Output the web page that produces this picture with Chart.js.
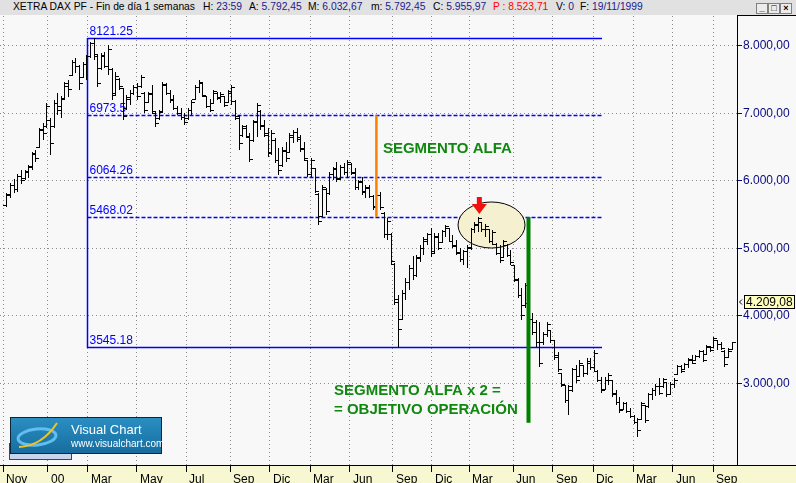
<!DOCTYPE html>
<html>
<head>
<meta charset="utf-8">
<script src="https://cdn.jsdelivr.net/npm/chart.js@4.4.0/dist/chart.umd.min.js"></script>
<style>
  html, body { margin: 0; padding: 0; background: #f8f8f8; overflow: hidden; }
  #wrap { position: relative; width: 796px; height: 483px; }
  #chart { position: absolute; left: 0; top: 0; }
  #head { position: absolute; left: 0; top: 0; width: 796px; height: 15px; background: #e1e1e1;
          font: 10.3px Arial, "Liberation Sans", sans-serif; color: #000; }
  #head span { position: absolute; top: 1px; white-space: pre; }
  .btn { position: absolute; top: 3px; width: 10px; height: 9px; border: 1px solid #808080;
         background: #ececec; font: bold 9px Arial, sans-serif; line-height: 9px; text-align: center; }
</style>
</head>
<body>
<div id="wrap">
  <canvas id="chart" width="796" height="483"></canvas>
  <div id="head"></div>
</div>
<script>
// weekly bars, Nov 1999 .. Sep 2003
const highs = [
  5822, 5970, 6030, 6104, 6163, 6163, 6237, 6430, 6459, 6785,
  6859, 7155, 6933, 7200, 7304, 7259, 7467, 7496, 7793, 7822,
  7718, 7763, 7867, 8059, 8121.25, 7867, 7896, 7911, 8015, 7674,
  7615, 7526, 7378, 7274, 7348, 7422, 7452, 7570, 7318, 7318,
  7422, 7022, 7052, 7467, 7452, 7348, 7274, 7111, 7081, 7007,
  7081, 7200, 7422, 7496, 7467, 7259, 7215, 7348, 7318, 7318,
  7259, 7348, 7422, 7200, 6978, 6830, 6830, 6711, 6904, 7155,
  7052, 6904, 6785, 6755, 6637, 6489, 6504, 6578, 6711, 6755,
  6785, 6681, 6578, 6311, 6341, 6193, 5822, 5941, 5896, 6133,
  6207, 6281, 6237, 6267, 6311, 6267, 6193, 6015, 6059, 5941,
  5941, 5793, 5822, 5837, 5541, 5452, 5230, 4785, 4311, 4385,
  4563, 4755, 4889, 4904, 5052, 5170, 5230, 5304, 5230, 5230,
  5274, 5348, 5304, 5200, 5126, 5007, 4978, 5052, 5304, 5393,
  5467, 5393, 5363, 5289, 5274, 5081, 5052, 5126, 5067, 4978,
  4755, 4563, 4415, 4489, 4192, 4044, 3941, 3911, 3763, 3911,
  3793, 3644, 3467, 3155, 2978, 2978, 3230, 3274, 3348, 3274,
  3378, 3378, 3496, 3200, 3096, 3096, 3155, 3052, 2904, 2800,
  2726, 2726, 2637, 2533, 2489, 2726, 2681, 2859, 2933, 2993,
  3081, 3081, 3022, 3022, 3081, 3274, 3274, 3304, 3378, 3422,
  3422, 3496, 3496, 3570, 3555, 3689, 3644, 3615, 3496, 3526,
  3615
];
const lows = [
  5615, 5748, 5822, 5837, 5955, 6015, 6044, 6163, 6281, 6489,
  6607, 6785, 6385, 6785, 6978, 6933, 7200, 7244, 7556, 7600,
  7348, 7526, 7496, 7822, 7793, 7393, 7644, 7674, 7570, 7200,
  7274, 7348, 6904, 7052, 7126, 7274, 7200, 7378, 7007, 7155,
  7007, 6800, 6904, 7007, 7274, 7155, 7052, 6978, 6904, 6830,
  6904, 6978, 7200, 7304, 7244, 7081, 7022, 7141, 7200, 7155,
  7096, 7155, 7126, 6904, 6459, 6652, 6637, 6281, 6578, 6652,
  6755, 6652, 6356, 6385, 6267, 6089, 6207, 6281, 6415, 6563,
  6578, 6430, 6311, 6059, 6059, 5822, 5348, 5467, 5496, 5793,
  6015, 5985, 6015, 6089, 6044, 6089, 5867, 5867, 5793, 5748,
  5748, 5570, 5615, 5570, 5155, 5126, 4755, 4163, 3545.18, 3941,
  4237, 4385, 4533, 4578, 4800, 4904, 5052, 4874, 4933, 4978,
  5081, 5170, 5096, 5007, 4904, 4800, 4755, 4711, 4978, 5230,
  5244, 5244, 5170, 5081, 5052, 4904, 4785, 4859, 4874, 4755,
  4504, 4267, 3941, 4118, 3911, 3718, 3541, 3244, 3570, 3689,
  3600, 3348, 3170, 2948, 2711, 2533, 2874, 3007, 3096, 3096,
  3126, 3200, 3170, 3022, 2859, 2904, 2978, 2800, 2681, 2563,
  2607, 2563, 2489, 2400, 2203, 2459, 2415, 2637, 2755, 2815,
  2830, 2933, 2800, 2830, 2933, 3126, 3155, 3200, 3230, 3289,
  3333, 3378, 3318, 3422, 3467, 3526, 3496, 3496, 3244, 3378,
  3496
];
const opens = [
  5640, 5790, 5930, 5880, 6060, 6030, 6130, 6200, 6390, 6500,
  6750, 6800, 6900, 6800, 7150, 7050, 7220, 7400, 7570, 7750,
  7690, 7540, 7720, 7850, 8040, 7850, 7660, 7850, 7700, 7650,
  7300, 7500, 7370, 7070, 7200, 7300, 7380, 7400, 7300, 7170,
  7280, 7000, 6920, 7030, 7420, 7300, 7200, 7080, 7000, 6940,
  6920, 7040, 7210, 7380, 7440, 7250, 7100, 7150, 7300, 7220,
  7250, 7170, 7300, 7180, 6950, 6680, 6780, 6650, 6600, 6860,
  7030, 6820, 6700, 6420, 6600, 6300, 6230, 6440, 6420, 6650,
  6720, 6640, 6480, 6300, 6090, 6180, 5800, 5470, 5880, 5820,
  6100, 6170, 6030, 6200, 6120, 6250, 6120, 5900, 5990, 5840,
  5890, 5770, 5620, 5780, 5520, 5200, 5200, 4770, 4250, 3950,
  4330, 4500, 4700, 4600, 4850, 5000, 5100, 5200, 4950, 5170,
  5090, 5250, 5290, 5110, 5050, 4940, 4830, 4950, 5000, 5280,
  5340, 5380, 5280, 5280, 5100, 5060, 4930, 4860, 5050, 4900,
  4750, 4540, 4300, 4150, 4180, 3950, 3900, 3600, 3600, 3720,
  3780, 3630, 3420, 3150, 2970, 2750, 2900, 3200, 3100, 3260,
  3150, 3300, 3230, 3180, 3040, 2910, 3040, 3040, 2850, 2720,
  2620, 2700, 2590, 2510, 2420, 2470, 2670, 2660, 2830, 2900,
  2960, 2950, 3010, 2840, 2990, 3140, 3250, 3210, 3280, 3340,
  3340, 3400, 3470, 3430, 3530, 3530, 3630, 3580, 3480, 3390,
  3500
];
const closes = [
  5800, 5940, 5880, 6070, 6010, 6140, 6210, 6400, 6330, 6760,
  6700, 7100, 6550, 7150, 7100, 7200, 7440, 7350, 7760, 7700,
  7450, 7730, 7840, 8040, 7880, 7450, 7860, 7700, 7950, 7260,
  7550, 7400, 6950, 7230, 7300, 7390, 7250, 7540, 7050, 7290,
  7030, 6850, 7020, 7430, 7300, 7190, 7080, 7000, 6940, 6860,
  7040, 7170, 7380, 7460, 7270, 7100, 7050, 7320, 7230, 7280,
  7120, 7320, 7380, 6920, 6550, 6800, 6660, 6320, 6880, 7120,
  6800, 6680, 6400, 6700, 6300, 6150, 6450, 6330, 6680, 6720,
  6620, 6460, 6330, 6100, 6300, 5850, 5400, 5900, 5550, 6100,
  6180, 6020, 6200, 6120, 6280, 6110, 5900, 5980, 5830, 5900,
  5770, 5600, 5780, 5600, 5200, 5400, 4800, 4200, 3800, 4340,
  4500, 4700, 4600, 4870, 5000, 5130, 5200, 4920, 5180, 5000,
  5250, 5320, 5110, 5030, 4930, 4830, 4950, 5020, 5280, 5350,
  5440, 5280, 5330, 5100, 5240, 4930, 4820, 5100, 4900, 4790,
  4530, 4300, 4000, 4450, 3950, 3750, 3600, 3300, 3720, 3880,
  3630, 3380, 3200, 2980, 2750, 2950, 3200, 3050, 3300, 3150,
  3330, 3240, 3450, 3040, 2890, 3050, 3120, 2830, 2720, 2600,
  2700, 2590, 2510, 2420, 2300, 2700, 2450, 2830, 2900, 2960,
  2850, 3060, 2830, 2990, 3050, 3250, 3180, 3280, 3350, 3300,
  3400, 3470, 3340, 3550, 3490, 3660, 3580, 3520, 3280, 3480,
  3600
];

// bottom axis: label and the bar slot it sits at
const monthLabels = ['Nov', '00', 'Mar', 'May', 'Jul', 'Sep', 'Dic', 'Mar', 'Jun',
                     'Sep', 'Dic', 'Mar', 'Jun', 'Sep', 'Dic', 'Mar', 'Jun', 'Sep'];
const monthTickPos = [-1.10, 11.31, 22.34, 35.86, 49.38, 61.52, 72.55, 83.59, 94.62,
                      106.48, 117.24, 127.45, 139.59, 150.62, 161.66, 172.69, 183.72, 194.76];
const priceTicks = [3000, 4000, 5000, 6000, 7000, 8000];

// retracement levels drawn from the 2000 top to the 2001 low
const fibLevels = [8121.25, 6973.5, 6064.26, 5468.02, 3545.18];
const fibLabels = ['8121.25', '6973.5', '6064.26', '5468.02', '3545.18'];
const fibDashed = [false, true, true, true, false];
const fibFrom = 22.07, fibTo = 164.14;

const alfaX = 101.9;          // orange segment
const targetX = 143.86;       // green segment (alfa x 2)
const targetLow = 2420;
const notes = [
  { text: 'SEGMENTO ALFA', x: 103.7, y: 6474 },
  { text: 'SEGMENTO ALFA x 2 =', x: 90.2, y: 2889 },
  { text: '= OBJETIVO OPERACIÓN', x: 90.2, y: 2607 }
];
const circle = { x: 133.66, y: 5348, dx: 9.24, dy: 341 };
const arrowTip = { x: 130.3, y: 5511 };
const lastPrice = 4209.08;

const headerItems = [
  [13, 'XETRA DAX PF - Fin de día 1 semanas', '', '#000'],
  [203, 'H: ', '23:59', '#1a1a8c'],
  [249, 'A: ', '5.792,45', '#1a1a8c'],
  [308, 'M: ', '6.032,67', '#1a1a8c'],
  [371, 'm: ', '5.792,45', '#1a1a8c'],
  [433, 'C: ', '5.955,97', '#1a1a8c'],
  [493, 'P : ', '8.523,71', '#ff0000'],
  [556, 'V: ', '0', '#1a1a8c'],
  [580, 'F: ', '19/11/1999', '#1a1a8c']
];

// header bar
const head = document.getElementById('head');
headerItems.forEach(([x, label, value, color]) => {
  const s = document.createElement('span');
  s.style.left = x + 'px';
  s.innerHTML = '<span style="position:static;color:' + (label.startsWith('P') ? color : '#000') + '">' + label +
                '</span><span style="position:static;color:' + color + '">' + value + '</span>';
  head.appendChild(s);
});
[['_', 756], ['\u25a1', 768], ['\u00d7', 780]].forEach(([g, x]) => {
  const b = document.createElement('div');
  b.className = 'btn';
  b.style.left = x + 'px';
  b.textContent = g;
  head.appendChild(b);
});

// small canvases used as open / close ticks
function tickImage(side) {
  const c = document.createElement('canvas');
  c.width = 7; c.height = 1;
  const g = c.getContext('2d');
  g.fillStyle = '#000';
  if (side < 0) g.fillRect(0, 0, 3, 1); else g.fillRect(4, 0, 3, 1);
  return c;
}

const slots = highs.map((_, i) => i);

// snap the library's computed bar / tick positions onto whole pixels
const snap = {
  id: 'snap',
  beforeDatasetsDraw(chart) {
    chart.data.datasets.forEach((ds, di) => {
      chart.getDatasetMeta(di).data.forEach(el => {
        el.x = Math.floor(el.x) + 0.5;
        if (di === 0) {
          el.y = Math.round(el.y);
          el.base = Math.round(el.base);
        } else {
          el.y = Math.floor(el.y) + 0.5;
        }
      });
    });
    chart.ctx.imageSmoothingEnabled = false;
  }
};

const decor = {
  id: 'decor',
  beforeDraw(chart) {
    const { ctx, chartArea: a, width, height } = chart;
    ctx.save();
    ctx.fillStyle = '#f8f8f8';
    ctx.fillRect(0, 0, width, height);
    ctx.fillStyle = '#f7f7d2';
    ctx.fillRect(0, a.bottom, width, height - a.bottom);
    ctx.restore();
  },
  beforeDatasetsDraw(chart) {
    const { ctx } = chart;
    const x = chart.scales.x, y = chart.scales.y;
    ctx.save();
    // retracement lines
    ctx.strokeStyle = '#0000ff';
    ctx.lineWidth = 1.5;
    const x0 = Math.round(x.getPixelForValue(fibFrom)) + 0.5;
    const x1 = Math.round(x.getPixelForValue(fibTo));
    fibLevels.forEach((lv, i) => {
      const py = Math.round(y.getPixelForValue(lv)) + 0.5;
      ctx.setLineDash(fibDashed[i] ? [4, 2] : []);
      ctx.beginPath(); ctx.moveTo(x0, py); ctx.lineTo(x1, py); ctx.stroke();
    });
    ctx.setLineDash([]);
    ctx.beginPath();
    ctx.moveTo(x0, Math.round(y.getPixelForValue(fibLevels[0])));
    ctx.lineTo(x0, Math.round(y.getPixelForValue(fibLevels[4])) + 1);
    ctx.stroke();
    ctx.fillStyle = '#0000ff';
    ctx.font = '12px Arial, "Liberation Sans", sans-serif';
    ctx.textBaseline = 'alphabetic';
    fibLevels.forEach((lv, i) => {
      ctx.fillText(fibLabels[i], x0 + 2, Math.round(y.getPixelForValue(lv)) - 3);
    });
    // highlighted top
    const cx = x.getPixelForValue(circle.x), cy = y.getPixelForValue(circle.y);
    const rx = x.getPixelForValue(circle.x + circle.dx) - cx;
    const ry = cy - y.getPixelForValue(circle.y + circle.dy);
    ctx.beginPath();
    ctx.ellipse(cx, cy, rx, ry, 0, 0, Math.PI * 2);
    ctx.fillStyle = '#f4f0d0';
    ctx.fill();
    ctx.strokeStyle = '#000';
    ctx.lineWidth = 1;
    ctx.stroke();
    ctx.restore();
  },
  afterDatasetsDraw(chart) {
    const { ctx } = chart;
    const x = chart.scales.x, y = chart.scales.y;
    ctx.save();
    // alfa segment
    const ax = x.getPixelForValue(alfaX);
    ctx.strokeStyle = '#ff8000';
    ctx.lineWidth = 2.5;
    ctx.beginPath();
    ctx.moveTo(ax, y.getPixelForValue(fibLevels[1]));
    ctx.lineTo(ax, y.getPixelForValue(fibLevels[3]));
    ctx.stroke();
    // target segment
    const tx = x.getPixelForValue(targetX);
    ctx.strokeStyle = '#008000';
    ctx.lineWidth = 4;
    ctx.beginPath();
    ctx.moveTo(tx, y.getPixelForValue(fibLevels[3]));
    ctx.lineTo(tx, y.getPixelForValue(targetLow));
    ctx.stroke();
    // notes
    ctx.fillStyle = '#108810';
    ctx.font = 'bold 15px Arial, "Liberation Sans", sans-serif';
    ctx.textBaseline = 'middle';
    notes.forEach(n => ctx.fillText(n.text, x.getPixelForValue(n.x), y.getPixelForValue(n.y)));
    // red arrow
    const px = x.getPixelForValue(arrowTip.x), py = y.getPixelForValue(arrowTip.y);
    ctx.fillStyle = '#f01010';
    ctx.beginPath();
    ctx.moveTo(px, py);
    ctx.lineTo(px - 7.5, py - 10);
    ctx.lineTo(px - 2.5, py - 10);
    ctx.lineTo(px - 2.5, py - 17);
    ctx.lineTo(px + 2.5, py - 17);
    ctx.lineTo(px + 2.5, py - 10);
    ctx.lineTo(px + 7.5, py - 10);
    ctx.closePath();
    ctx.fill();
    // logo
    ctx.imageSmoothingEnabled = true;
    ctx.fillStyle = '#c9d5ee';
    ctx.fillRect(9, 443, 63, 17);
    ctx.strokeStyle = '#404060';
    ctx.lineWidth = 1;
    ctx.strokeRect(9.5, 443.5, 62, 16);
    const g = ctx.createLinearGradient(0, 417, 0, 454);
    g.addColorStop(0, '#2b8fc3');
    g.addColorStop(1, '#176c9e');
    ctx.fillStyle = g;
    ctx.fillRect(10, 417, 152, 37);
    ctx.strokeStyle = '#0b2638';
    ctx.strokeRect(10.5, 417.5, 151, 36);
    ctx.strokeStyle = '#62bdf0';
    ctx.lineWidth = 3;
    ctx.beginPath();
    ctx.ellipse(37, 437, 19, 8, -0.1, 0, Math.PI * 2);
    ctx.stroke();
    ctx.strokeStyle = '#f2c41e';
    ctx.lineWidth = 2;
    ctx.beginPath();
    ctx.moveTo(19, 447);
    ctx.quadraticCurveTo(42, 446, 57, 423);
    ctx.stroke();
    ctx.fillStyle = '#ffffff';
    ctx.textBaseline = 'alphabetic';
    ctx.font = '13px Arial, "Liberation Sans", sans-serif';
    ctx.fillText('Visual Chart', 71, 434);
    ctx.font = '10px Arial, "Liberation Sans", sans-serif';
    ctx.fillText('www.visualchart.com', 71, 447);
    ctx.restore();
  },
  afterDraw(chart) {
    const { ctx, chartArea: a, width } = chart;
    const y = chart.scales.y;
    ctx.save();
    ctx.strokeStyle = '#000';
    ctx.lineWidth = 1;
    ctx.beginPath();
    ctx.moveTo(a.right, 15.5); ctx.lineTo(width, 15.5);
    ctx.moveTo(a.right + 0.5, 15); ctx.lineTo(a.right + 0.5, a.bottom);
    ctx.moveTo(a.right, a.bottom + 0.5); ctx.lineTo(width, a.bottom + 0.5);
    ctx.stroke();
    // last price tag
    const py = Math.round(y.getPixelForValue(lastPrice));
    ctx.fillStyle = '#ffffc0';
    ctx.fillRect(744, py - 7, 51, 14);
    ctx.strokeRect(744.5, py - 6.5, 50, 13);
    ctx.beginPath();
    ctx.moveTo(742, py - 2.5); ctx.lineTo(739.5, py); ctx.lineTo(742, py + 2.5);
    ctx.stroke();
    ctx.fillStyle = '#000';
    ctx.font = '12px Arial, "Liberation Sans", sans-serif';
    ctx.textBaseline = 'middle';
    ctx.fillText(lastPrice.toLocaleString('de-DE', { minimumFractionDigits: 2 }), 746, py + 1);
    ctx.restore();
  }
};

new Chart(document.getElementById('chart'), {
  type: 'bar',
  data: {
    datasets: [
      {
        type: 'bar',
        data: slots.map(i => ({ x: i, y: [lows[i], highs[i]] })),
        backgroundColor: '#000',
        borderWidth: 0,
        barThickness: 1,
        inflateAmount: 0
      },
      {
        type: 'scatter',
        data: slots.map(i => ({ x: i, y: opens[i] })),
        pointStyle: tickImage(-1),
        pointRadius: 3
      },
      {
        type: 'scatter',
        data: slots.map(i => ({ x: i, y: closes[i] })),
        pointStyle: tickImage(1),
        pointRadius: 3
      }
    ]
  },
  options: {
    responsive: false,
    animation: false,
    devicePixelRatio: 1,
    events: [],
    layout: { padding: { top: 16, left: 0, right: 0, bottom: 0 }, autoPadding: false },
    plugins: { legend: { display: false }, tooltip: { enabled: false } },
    scales: {
      x: {
        type: 'linear',
        min: -1.931,
        max: 201.379,
        offset: false,
        afterFit: s => { s.height = 18; },
        afterBuildTicks: s => { s.ticks = monthTickPos.map(v => ({ value: v })); },
        grid: { offset: false, color: '#8a8a8a', lineWidth: 1, tickLength: 7, tickColor: '#000', tickBorderDash: [] },
        border: { display: true, color: '#000', width: 1, dash: [1, 3] },
        ticks: {
          autoSkip: false, maxRotation: 0, minRotation: 0, align: 'start', labelOffset: 3, padding: 0,
          color: '#000', font: { family: 'Arial', size: 12 },
          callback: (v, i) => monthLabels[i]
        }
      },
      y: {
        position: 'right',
        min: 1792.6,
        max: 8444.4,
        afterFit: s => { s.width = 59; },
        afterBuildTicks: s => { s.ticks = priceTicks.map(v => ({ value: v })); },
        grid: { color: '#8a8a8a', lineWidth: 1, tickLength: 5, tickColor: '#0a0a80', tickBorderDash: [] },
        border: { display: true, color: '#000', width: 1, dash: [1, 3] },
        ticks: {
          padding: 1, color: '#0a0a80', font: { family: 'Arial', size: 12 },
          callback: v => v.toLocaleString('de-DE', { minimumFractionDigits: 2 })
        }
      }
    }
  },
  plugins: [snap, decor]
});
</script>
</body>
</html>
